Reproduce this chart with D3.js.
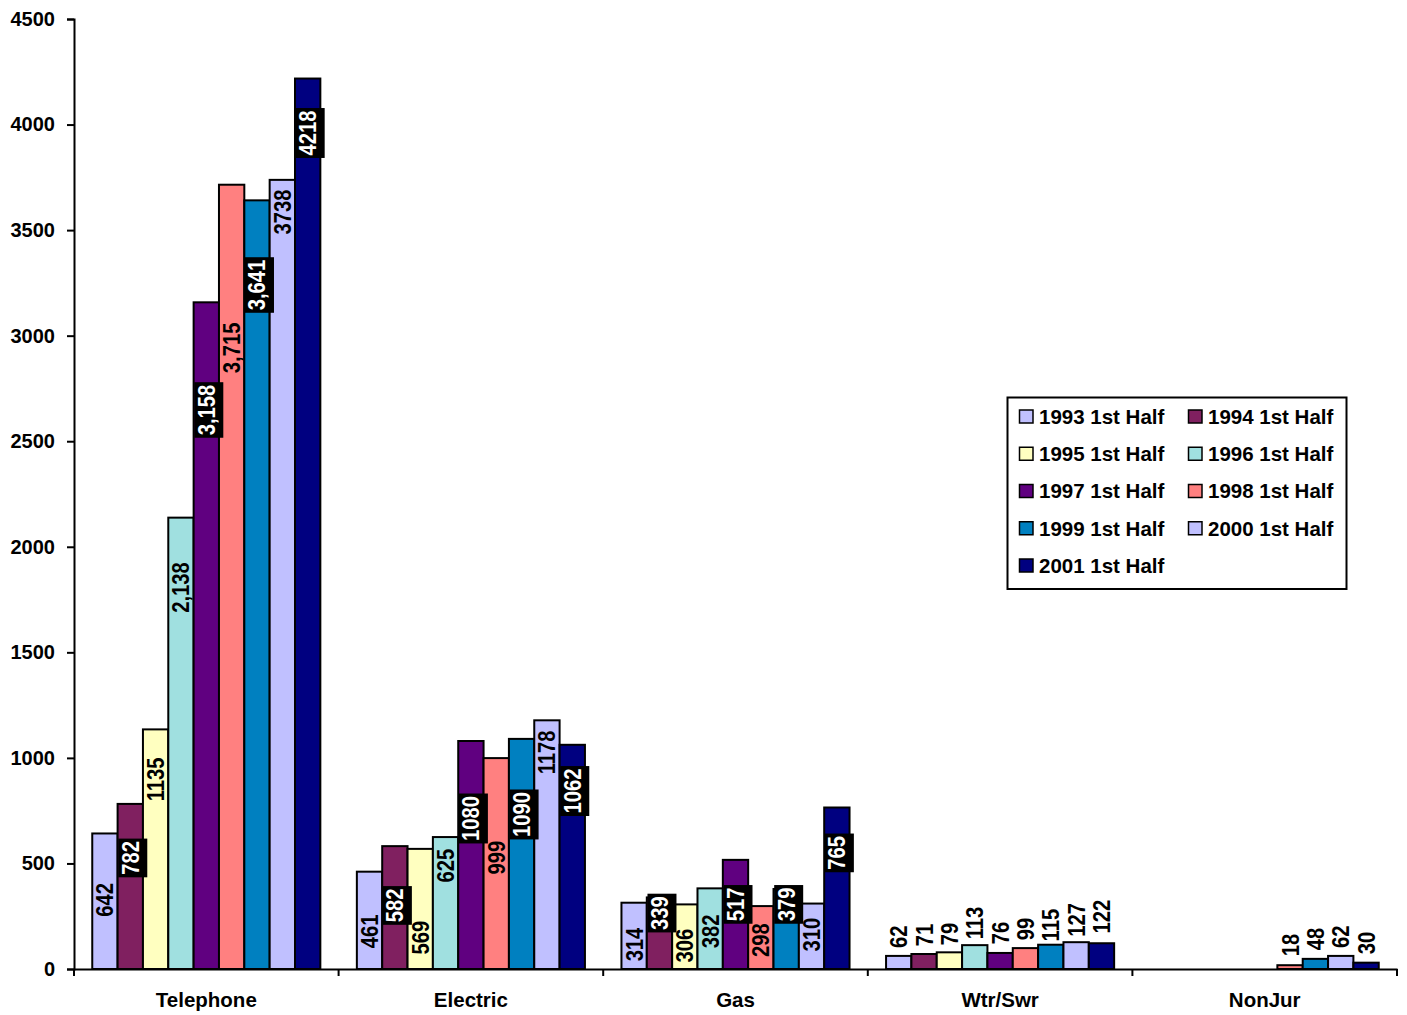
<!DOCTYPE html>
<html>
<head>
<meta charset="utf-8">
<script src="https://cdn.jsdelivr.net/npm/d3@7"></script>
<style>
  html, body { margin: 0; padding: 0; background: #fff; }
  svg { display: block; }
  text { font-family: "Liberation Sans", Arial, sans-serif; font-weight: bold; }
</style>
</head>
<body>
<svg id="chart" width="1407" height="1015"></svg>
<script>
// ---------------- DATA ----------------
const categories = ["Telephone", "Electric", "Gas", "Wtr/Swr", "NonJur"];
const seriesNames = ["1993 1st Half", "1994 1st Half", "1995 1st Half", "1996 1st Half",
  "1997 1st Half", "1998 1st Half", "1999 1st Half", "2000 1st Half", "2001 1st Half"];
const seriesColors = ["#C0C0FF", "#802060", "#FFFFC0", "#A0E0E0", "#600080",
  "#FF8080", "#0080C0", "#C0C0FF", "#000080"];

const v1993 = [642, 461, 314, 62, 0];
const v1994 = [782, 582, 339, 71, 0];
const v1995 = [1135, 569, 306, 79, 0];
const v1996 = [2138, 625, 382, 113, 0];
const v1997 = [3158, 1080, 517, 76, 0];
const v1998 = [3715, 999, 298, 99, 18];
const v1999 = [3641, 1090, 379, 115, 48];
const v2000 = [3738, 1178, 310, 127, 62];
const v2001 = [4218, 1062, 765, 122, 30];
const seriesValues = [v1993, v1994, v1995, v1996, v1997, v1998, v1999, v2000, v2001];

// where each data label's centre sits, in value units
const lab1993 = [327, 178, 116, 153, null];
const lab1994 = [526, 301, 265, 161, null];
const lab1995 = [898, 149, 111, 166, null];
const lab1996 = [1807, 490, 178, 218, null];
const lab1997 = [2648, 713, 306, 170, null];
const lab1998 = [2942, 528, 137, 189, 114];
const lab1999 = [3240, 732, 306, 208, 142];
const lab2000 = [3586, 1026, 163, 233, 153];
const lab2001 = [3960, 843, 550, 248, 123];
const labelAnchors = [lab1993, lab1994, lab1995, lab1996, lab1997, lab1998, lab1999, lab2000, lab2001];

// labels written with a thousands separator
const commaCategory = "Telephone";
const commaSeries = ["1996 1st Half", "1997 1st Half", "1998 1st Half", "1999 1st Half"];
// labels drawn white on a black box
const boxedSeries = ["1994 1st Half", "1997 1st Half", "1999 1st Half", "2001 1st Half"];
const boxedCategories = ["Telephone", "Electric", "Gas"];

const yTicks = [0, 500, 1000, 1500, 2000, 2500, 3000, 3500, 4000, 4500];

// ---------------- LAYOUT ----------------
(function draw() {
const svg = d3.select("#chart");
const pLeft = 74, pRight = 1397, pTop = 19, pBottom = 969;

const y = d3.scaleLinear().domain([0, 4500]).range([pBottom, pTop]);
const x0 = d3.scaleBand().domain(categories).range([pLeft, pRight]).paddingInner(0).paddingOuter(0);
const groupPad = 0.069;
const x1 = d3.scaleBand().domain(seriesNames)
  .range([x0.bandwidth() * groupPad, x0.bandwidth() * (1 - groupPad)]).padding(0);

const rows = [];
seriesNames.forEach((s, si) => {
  categories.forEach((c, ci) => {
    rows.push({ s, si, c, ci, v: seriesValues[si][ci], lab: labelAnchors[si][ci] });
  });
});

const gBars = svg.append("g");
gBars.selectAll("rect").data(rows.filter(d => d.v > 0)).join("rect")
  .attr("x", d => x0(d.c) + x1(d.s))
  .attr("y", d => y(d.v))
  .attr("width", x1.bandwidth())
  .attr("height", d => y(0) - y(d.v))
  .attr("fill", d => seriesColors[d.si])
  .attr("stroke", "#000")
  .attr("stroke-width", 2);

const yAxis = d3.axisLeft(y).tickValues(yTicks).tickSize(7).tickPadding(12).tickFormat(d3.format("d"));
const gy = svg.append("g").attr("transform", `translate(${pLeft},0)`).call(yAxis);
gy.select(".domain").attr("stroke", "#000").attr("stroke-width", 2);
gy.selectAll(".tick line").attr("stroke", "#000").attr("stroke-width", 2);
gy.selectAll(".tick text").attr("font-size", 20).attr("font-family", "Liberation Sans, Arial, sans-serif")
  .attr("font-weight", "bold").attr("fill", "#000");

const xAxis = d3.axisBottom(x0).tickSize(0).tickPadding(23);
const gx = svg.append("g").attr("transform", `translate(0,${pBottom})`).call(xAxis);
gx.select(".domain").attr("stroke", "#000").attr("stroke-width", 2);
gx.selectAll(".tick text").attr("font-size", 20.5).attr("font-family", "Liberation Sans, Arial, sans-serif")
  .attr("font-weight", "bold").attr("fill", "#000");
const bounds = categories.map(c => x0(c)).concat([x0(categories[categories.length - 1]) + x0.bandwidth()]);
gx.selectAll(".sep").data(bounds).join("line").attr("class", "sep")
  .attr("x1", d => d).attr("x2", d => d).attr("y1", 0).attr("y2", 7)
  .attr("stroke", "#000").attr("stroke-width", 2);

const fontSize = 23.5, squeeze = 0.86;
const gLab = svg.append("g");
const labRows = rows.filter(d => d.lab != null && d.v > 0);
const fmtComma = d3.format(","), fmtPlain = d3.format("d");
const isBoxed = d => boxedSeries.includes(d.s) && boxedCategories.includes(d.c);
labRows.sort((a, b) => (isBoxed(a) ? 1 : 0) - (isBoxed(b) ? 1 : 0));

labRows.forEach(d => {
  const cx = x0(d.c) + x1(d.s) + x1.bandwidth() / 2;
  const cy = y(d.lab);
  const txt = (d.c === commaCategory && commaSeries.includes(d.s)) ? fmtComma(d.v) : fmtPlain(d.v);
  const g = gLab.append("g").attr("transform", `translate(${cx},${cy}) rotate(-90) scale(${squeeze},1)`);
  const boxed = isBoxed(d);
  const rect = boxed ? g.append("rect") : null;
  const t = g.append("text")
    .attr("x", 0).attr("y", 0).attr("dy", "0.36em")
    .attr("text-anchor", "middle")
    .attr("font-size", fontSize)
    .attr("fill", boxed ? "#fff" : "#000")
    .text(txt);
  if (boxed) {
    const len = t.node().getComputedTextLength();
    rect.attr("x", -len / 2 - 2.5 / squeeze).attr("width", len + 5 / squeeze)
      .attr("y", -14.5 + 2.5).attr("height", 29).attr("fill", "#000");
  }
});

const lg = svg.append("g");
lg.append("rect").attr("x", 1007.5).attr("y", 397.5).attr("width", 339).attr("height", 191.5)
  .attr("fill", "#fff").attr("stroke", "#000").attr("stroke-width", 2);
const legCols = [1019.5, 1188.5], legRow0 = 416.5, legStep = 37.25;
seriesNames.forEach((s, i) => {
  const col = i % 2, row = Math.floor(i / 2);
  const sx = legCols[col], sy = legRow0 + row * legStep;
  lg.append("rect").attr("x", sx).attr("y", sy - 6.5).attr("width", 13.5).attr("height", 13)
    .attr("fill", seriesColors[i]).attr("stroke", "#000").attr("stroke-width", 1.5);
  lg.append("text").attr("x", sx + 19.5).attr("y", sy).attr("dy", "0.36em")
    .attr("font-size", 20.5).attr("fill", "#000").text(s);
});
})();
</script>
</body>
</html>
